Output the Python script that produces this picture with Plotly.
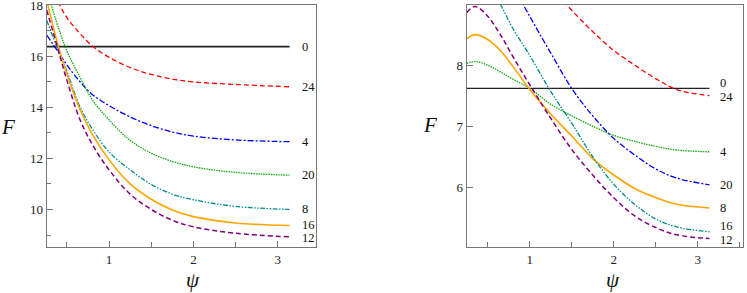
import plotly.graph_objects as go

# ---------------- data ----------------
# Left panel
psi_L = [0.26, 0.4, 0.5, 0.65, 0.8, 1.0, 1.25, 1.5, 1.75, 2.0, 2.5, 3.14]
L_0  = [16.37] * len(psi_L)
L_24 = [19.3, 18.1, 17.5, 16.9, 16.4, 15.95, 15.55, 15.28, 15.1, 14.99, 14.89, 14.80]
L_4  = [16.82, 16.15, 15.65, 15.02, 14.5, 14.06, 13.62, 13.28, 13.03, 12.87, 12.72, 12.65]
L_20 = [18.6, 17.1, 16.2, 15.2, 14.3, 13.5, 12.7, 12.2, 11.88, 11.67, 11.45, 11.34]
L_8  = [17.4, 16.2, 15.4, 14.05, 13.15, 12.25, 11.55, 10.98, 10.6, 10.38, 10.12, 10.0]
L_16 = [18.2, 16.35, 15.3, 13.95, 12.95, 11.94, 11.0, 10.4, 9.98, 9.72, 9.47, 9.37]
L_12 = [17.8, 16.2, 15.05, 13.55, 12.55, 11.55, 10.6, 10.0, 9.58, 9.32, 9.07, 8.93]

# Right panel
psi_R = [0.25, 0.35, 0.5, 0.65, 0.8, 1.0, 1.25, 1.5, 1.75, 2.0, 2.25, 2.5, 2.75, 3.14]
R_0  = [7.62] * len(psi_R)
R_24 = [None, None, None, None, None, 9.6, 9.28, 8.9, 8.55, 8.24, 8.0, 7.78, 7.6, 7.50]
R_4  = [8.03, 8.06, 8.0, 7.89, 7.77, 7.62, 7.36, 7.17, 7.0, 6.85, 6.75, 6.67, 6.61, 6.58]
R_20 = [None, None, None, None, 9.3, 8.8, 8.2, 7.62, 7.17, 6.8, 6.53, 6.3, 6.15, 6.04]
R_8  = [8.43, 8.50, 8.42, 8.24, 7.98, 7.6, 7.2, 6.84, 6.47, 6.2, 5.98, 5.83, 5.72, 5.66]
R_16 = [None, None, 9.35, 9.0, 8.6, 8.16, 7.57, 7.05, 6.5, 6.05, 5.72, 5.48, 5.35, 5.27]
R_12 = [8.86, 8.96, 8.8, 8.5, 8.14, 7.68, 7.13, 6.62, 6.2, 5.83, 5.53, 5.34, 5.22, 5.16]

labels_L = ["0", "24", "4", "20", "8", "16", "12"]
labels_R = ["0", "24", "4", "20", "8", "16", "12"]

# ---------------- styles ----------------
BLACK = "#222222"
RED = "#ff0000"
BLUE = "#0000ff"
GREEN = "#11aa11"
TEAL = "#008b8b"
ORANGE = "#ffa500"
PURPLE = "#800080"

styles_L = [
    dict(color=BLACK, width=1.6, dash="solid"),
    dict(color=RED, width=1.3, dash="5px,3px"),
    dict(color=BLUE, width=1.3, dash="6px,2px,2px,2px"),
    dict(color=GREEN, width=1.3, dash="1.5px,1px"),
    dict(color=TEAL, width=1.3, dash="5px,1.5px,1.5px,1.5px,1.5px,1.5px"),
    dict(color=ORANGE, width=1.6, dash="solid"),
    dict(color=PURPLE, width=1.5, dash="5px,3px"),
]
styles_R = [
    dict(color=BLACK, width=1.1, dash="solid"),
    dict(color=RED, width=1.3, dash="5px,3px"),
    dict(color=GREEN, width=1.3, dash="1.5px,1px"),
    dict(color=BLUE, width=1.3, dash="6px,2px,2px,2px"),
    dict(color=ORANGE, width=1.6, dash="solid"),
    dict(color=TEAL, width=1.3, dash="5px,1.5px,1.5px,1.5px,1.5px,1.5px"),
    dict(color=PURPLE, width=1.5, dash="5px,3px"),
]
yshift_L = [0, 0, 0, 0, 0, 1, -1]
yshift_R = [5, -1, 0, 0, 0, 6, -1]

series_L = [L_0, L_24, L_4, L_20, L_8, L_16, L_12]
series_R = [R_0, R_24, R_4, R_20, R_8, R_16, R_12]

fig = go.Figure()
FONT = "Liberation Serif, Times New Roman, DejaVu Serif, serif"

for ys, st in zip(series_L, styles_L):
    fig.add_trace(go.Scatter(x=psi_L, y=ys, mode="lines", line=dict(shape="spline", smoothing=1.0, **st),
                             xaxis="x", yaxis="y", showlegend=False, connectgaps=False))
for ys, st in zip(series_R, styles_R):
    fig.add_trace(go.Scatter(x=psi_R, y=ys, mode="lines", line=dict(shape="spline", smoothing=1.0, **st),
                             xaxis="x2", yaxis="y2", showlegend=False, connectgaps=False))

annotations = []
for lab, ys, sh in zip(labels_L, series_L, yshift_L):
    annotations.append(dict(x=3.26, y=ys[-1], xref="x", yref="y", text=lab, showarrow=False,
                            xanchor="left", yanchor="middle", yshift=sh,
                            font=dict(family=FONT, size=12.5, color="#111")))
for lab, ys, sh in zip(labels_R, series_R, yshift_R):
    annotations.append(dict(x=3.24, y=ys[-1], xref="x2", yref="y2", text=lab, showarrow=False,
                            xanchor="left", yanchor="middle", yshift=sh,
                            font=dict(family=FONT, size=12.5, color="#111")))
# axis titles
for (xp, yp, t) in [(8, 127, "F"), (193, 280, "ψ"), (430, 125, "F"), (613, 280, "ψ")]:
    annotations.append(dict(x=xp / 747, y=1 - yp / 293, xref="paper", yref="paper", text="<i>%s</i>" % t,
                            showarrow=False, xanchor="center", yanchor="middle",
                            font=dict(family=FONT, size=21, color="#111")))

axis_common = dict(showline=True, linecolor="#777777", linewidth=1, mirror=True, ticks="inside",
                   tickcolor="#777777", ticklen=6, showgrid=False, zeroline=False,
                   automargin=False,
                   tickfont=dict(family=FONT, size=13, color="#222"))

fig.update_layout(
    width=747, height=293, margin=dict(l=0, r=0, t=0, b=0, autoexpand=False),
    paper_bgcolor="white", plot_bgcolor="white",
    font=dict(family=FONT),
    xaxis=dict(domain=[46.7 / 747, 316 / 747], range=[0.26, 3.454], tick0=0, dtick=1,
               minor=dict(ticks="inside", dtick=0.5, tick0=0, ticklen=5, tickcolor="#777777"),
               anchor="y", **axis_common),
    yaxis=dict(domain=[1 - 247.3 / 293, 1 - 4.7 / 293], range=[8.52, 18.01], tick0=0, dtick=2,
               minor=dict(ticks="inside", dtick=1, tick0=0, ticklen=4, tickcolor="#777777"),
               anchor="x", ticklabeloverflow="allow", **axis_common),
    xaxis2=dict(domain=[466.7 / 747, 742.7 / 747], range=[0.25, 3.536], tick0=0, dtick=1,
                minor=dict(ticks="inside", dtick=0.5, tick0=0, ticklen=5, tickcolor="#777777"),
                anchor="y2", **axis_common),
    yaxis2=dict(domain=[1 - 247.3 / 293, 1 - 4.7 / 293], range=[5.016, 8.99], tick0=0, dtick=1,
                anchor="x2", **axis_common),
    annotations=annotations,
)

fig.write_html("out.html", config={"displayModeBar": False},
               post_script="document.body.style.margin='0';document.body.style.overflow='hidden';")
